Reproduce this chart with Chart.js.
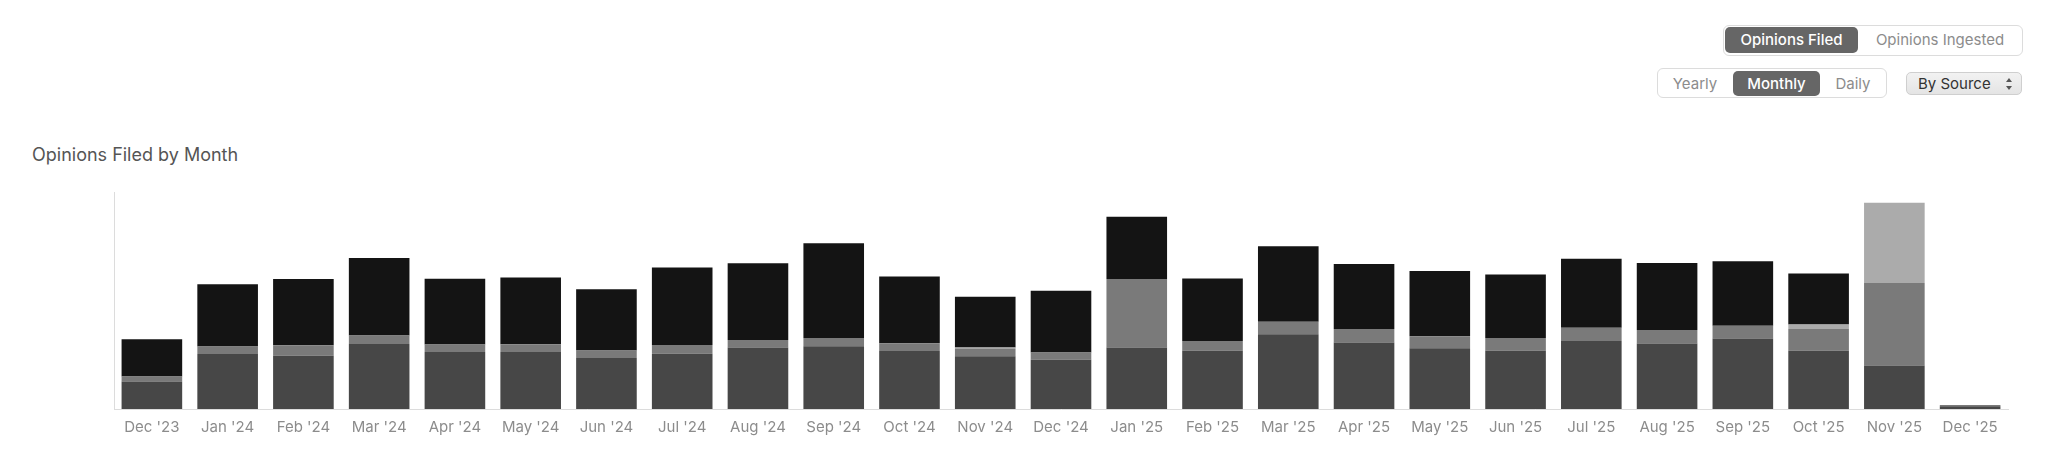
<!DOCTYPE html>
<html>
<head>
<meta charset="utf-8">
<script src="https://cdn.jsdelivr.net/npm/chart.js@4/dist/chart.umd.min.js"></script>
<style>
  body { margin: 0; width: 2048px; height: 476px; background: #fff; font-family: Inter, "Noto Sans", sans-serif; position: relative; overflow: hidden; }
  .group { position: absolute; border: 1px solid #dcdcdc; border-radius: 6px; box-sizing: border-box; background: #fff; }
  .btn { position: absolute; font-size: 15px; color: #8c8c8c; text-align: center; box-sizing: border-box; }
  .btn.active { background: #666; color: #fff; border-radius: 5px; font-weight: 500; }
  .select { position: absolute; left: 1906px; top: 72px; width: 116px; height: 23px; box-sizing: border-box; border: 1px solid #cfcfcf; border-radius: 5px; background: linear-gradient(#f2f2f2, #e4e4e4); font-size: 15px; color: #333; line-height: 21px; padding-left: 11px; }
  .arrows { position: absolute; right: 9px; top: 5px; width: 6px; height: 12px; }
  .arrows::before, .arrows::after { content: ""; position: absolute; left: 0; border-left: 3px solid transparent; border-right: 3px solid transparent; }
  .arrows::before { top: 0; border-bottom: 4px solid #555; }
  .arrows::after { bottom: 0; border-top: 4px solid #555; }
  .title { position: absolute; left: 32px; top: 144px; font-size: 18px; color: #555; }
  .chart-box { position: absolute; left: 104px; top: 182px; width: 1914px; height: 263px; }
</style>
</head>
<body>
<div class="group" style="left:1723px;top:25px;width:300px;height:31px;"></div>
<div class="btn active" style="left:1725px;top:27px;width:133px;height:26px;line-height:26px;">Opinions Filed</div>
<div class="btn" style="left:1864px;top:27px;width:152px;height:26px;line-height:26px;">Opinions Ingested</div>

<div class="group" style="left:1657px;top:68px;width:230px;height:30px;"></div>
<div class="btn" style="left:1662px;top:71px;width:66px;height:25px;line-height:25px;">Yearly</div>
<div class="btn active" style="left:1733px;top:71px;width:87px;height:25px;line-height:25px;">Monthly</div>
<div class="btn" style="left:1822px;top:71px;width:62px;height:25px;line-height:25px;">Daily</div>
<div class="select">By Source<span class="arrows"></span></div>

<div class="title">Opinions Filed by Month</div>
<div class="chart-box"><canvas id="chart"></canvas></div>

<script>
const months = ["Dec '23", "Jan '24", "Feb '24", "Mar '24", "Apr '24", "May '24", "Jun '24", "Jul '24", "Aug '24", "Sep '24", "Oct '24", "Nov '24", "Dec '24",
                "Jan '25", "Feb '25", "Mar '25", "Apr '25", "May '25", "Jun '25", "Jul '25", "Aug '25", "Sep '25", "Oct '25", "Nov '25", "Dec '25"];

// opinions per source, stacked bottom to top
const sourceA = [280, 557, 540, 660, 577, 577, 517, 560, 624, 637, 587, 534, 500, 624, 590, 757, 674, 617, 590, 690, 664, 714, 590, 440, 27];
const sourceB = [50, 77, 106, 84, 77, 80, 77, 90, 76, 83, 80, 80, 74, 693, 100, 127, 136, 120, 130, 134, 136, 130, 220, 837, 13];
const sourceC = [0, 0, 0, 0, 0, 0, 0, 0, 0, 0, 0, 10, 0, 0, 0, 0, 0, 0, 0, 0, 0, 0, 47, 813, 0];
const sourceD = [377, 630, 673, 786, 666, 677, 620, 784, 777, 960, 677, 513, 626, 633, 634, 766, 660, 663, 644, 700, 680, 653, 517, 0, 0];

const yMax = 2200;

function makeSet(label, data, color) {
    return {
        label: label,
        data: data,
        backgroundColor: color,
        borderWidth: 0,
        categoryPercentage: 0.8,
        barPercentage: 1.0
    };
}

new Chart(document.getElementById('chart'), {
    type: 'bar',
    data: {
        labels: months,
        datasets: [
            makeSet('Source A', sourceA, '#474747'),
            makeSet('Source B', sourceB, '#7a7a7a'),
            makeSet('Source C', sourceC, '#ababab'),
            makeSet('Source D', sourceD, '#141414')
        ]
    },
    options: {
        responsive: true,
        maintainAspectRatio: false,
        animation: false,
        layout: { padding: { left: 10, right: 10, top: 10, bottom: 0 } },
        plugins: {
            legend: { display: false },
            tooltip: { enabled: false }
        },
        scales: {
            x: {
                stacked: true,
                grid: { display: false, drawTicks: false },
                border: { display: true, color: '#dcdcdc', width: 1 },
                ticks: { color: '#8c8c8c', font: { family: 'Inter', size: 15 }, padding: 9, maxRotation: 0, autoSkip: false }
            },
            y: {
                stacked: true,
                min: 0,
                max: yMax,
                grid: { display: false, drawTicks: false },
                border: { display: true, color: '#dcdcdc', width: 1 },
                ticks: { display: false }
            }
        }
    }
});
</script>
</body>
</html>
